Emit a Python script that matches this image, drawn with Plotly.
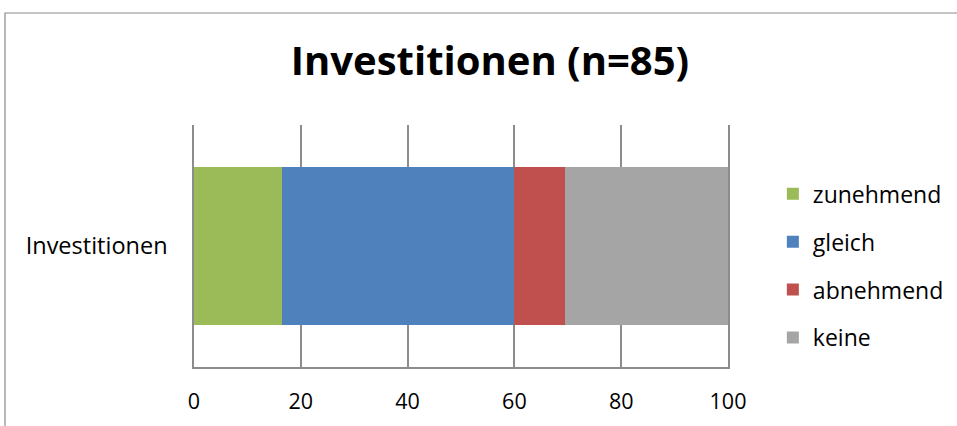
import plotly.graph_objects as go

# Antworten zur Investitionsentwicklung, Anteile in Prozent (n=85)
category = ["Investitionen"]
series_names = ["zunehmend", "gleich", "abnehmend", "keine"]
series_values = [16.47, 43.53, 9.41, 30.59]
series_colors = ["#9BBB59", "#4F81BD", "#C0504D", "#A5A5A5"]
x_ticks = [0, 20, 40, 60, 80, 100]

FONT = "Open Sans, Noto Sans, sans-serif"
GRID = "#8C8C8C"

fig = go.Figure()
for name, val, col in zip(series_names, series_values, series_colors):
    fig.add_trace(go.Bar(
        y=category, x=[val], name=name, orientation="h",
        marker=dict(color=col, line=dict(width=0)),
        legendgroup=name,
    ))

fig.update_layout(
    width=957, height=426,
    barmode="stack", bargap=0.35,
    paper_bgcolor="white", plot_bgcolor="white",
    margin=dict(l=194, r=229, t=125, b=59, autoexpand=False),
    font=dict(family=FONT, size=22, color="#000000"),
    title=dict(text="<b>Investitionen (n=85)</b>", x=0.512, xanchor="center",
               y=1 - 61 / 426, yanchor="middle",
               font=dict(family=FONT, size=40, color="#000000")),
    legend=dict(x=1.084, xanchor="left", y=0.418, yanchor="middle",
                traceorder="grouped", tracegroupgap=15,
                font=dict(family=FONT, size=23), itemclick=False),
    xaxis=dict(range=[0, 100], tickvals=x_ticks, showgrid=True,
               gridcolor=GRID, gridwidth=1.5, zeroline=False,
               showline=True, linecolor=GRID, linewidth=1.5,
               ticks="", ticklabelstandoff=14, automargin=False,
               tickfont=dict(family=FONT, size=21.5)),
    yaxis=dict(showgrid=False, zeroline=False, showline=True, mirror=True,
               linecolor=GRID, linewidth=1.5, ticks="", automargin=False,
               ticklabelstandoff=20, tickfont=dict(family=FONT, size=23.5)),
    shapes=[dict(type="rect", xref="paper", yref="paper",
                 x0=(5 - 194) / 534, x1=2.0, y0=-1.0, y1=(367 - 13) / 242,
                 line=dict(color=GRID, width=1.2), layer="below")],
)

fig.write_html("out.html")
